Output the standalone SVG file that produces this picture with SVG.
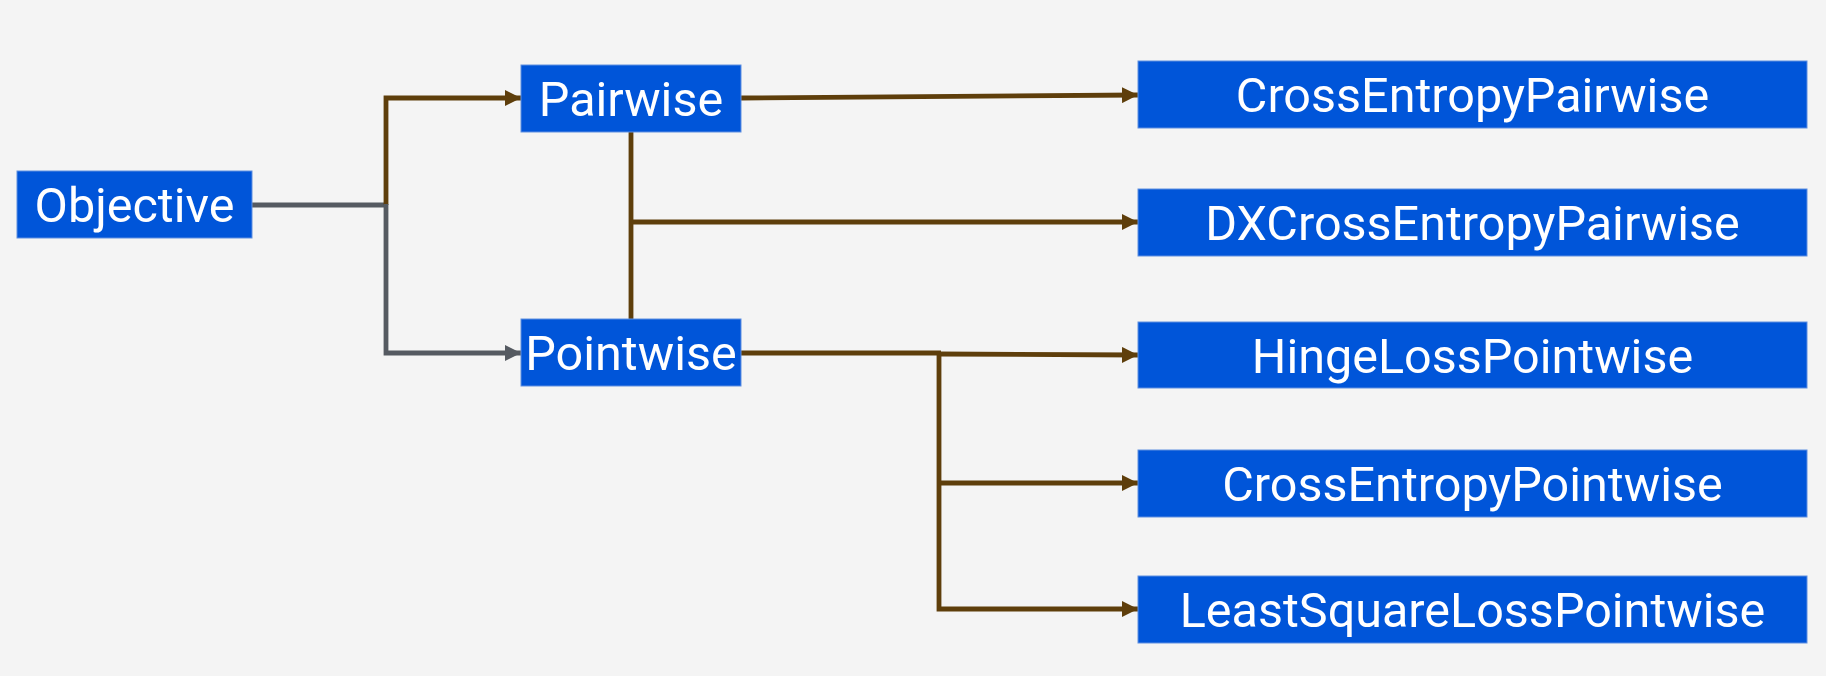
<svg xmlns="http://www.w3.org/2000/svg" width="1826" height="676" viewBox="0 0 1826 676">
<style>
.box{fill:#0055d9;stroke:#5f8fe0;stroke-width:1}
.lbl{font-family:Roboto,"Liberation Sans",Arial,sans-serif;font-size:48.5px;fill:#ffffff;text-anchor:middle}
.brown{fill:none;stroke:#5e3e0b;stroke-width:4.8}
.gray{fill:none;stroke:#555a61;stroke-width:4.8}
</style>
<defs>
<marker id="ab" markerUnits="userSpaceOnUse" markerWidth="16" markerHeight="16" viewBox="0 0 16 16" refX="16" refY="8" orient="auto"><path d="M0 0 L16 8 L0 16 Z" fill="#5e3e0b"/></marker>
<marker id="ag" markerUnits="userSpaceOnUse" markerWidth="16" markerHeight="16" viewBox="0 0 16 16" refX="16" refY="8" orient="auto"><path d="M0 0 L16 8 L0 16 Z" fill="#555a61"/></marker>
</defs>
<rect width="1826" height="676" fill="#f4f4f4"/>
<g id="connectors">
<path class="gray" d="M252 205 L386 205"/>
<path class="brown" d="M386 205 L386 98 L521 98" marker-end="url(#ab)"/>
<path class="gray" d="M386 204 L386 353 L521 353" marker-end="url(#ag)"/>
<path class="brown" d="M741 98 L1138 95" marker-end="url(#ab)"/>
<path class="brown" d="M631 132 L631 319"/>
<path class="brown" d="M631 222 L1138 222" marker-end="url(#ab)"/>
<path class="brown" d="M741 353 L941 353"/>
<path class="brown" d="M939 354 L1138 355" marker-end="url(#ab)"/>
<path class="brown" d="M939 353 L939 609 L1138 609" marker-end="url(#ab)"/>
<path class="brown" d="M939 483 L1138 483" marker-end="url(#ab)"/>
</g>
<g id="objective"><rect class="box" x="17" y="171" width="235" height="67"/><text class="lbl" x="134.5" y="222">Objective</text></g>
<g id="pairwise"><rect class="box" x="521" y="65" width="220" height="67"/><text class="lbl" x="631" y="116">Pairwise</text></g>
<g id="pointwise"><rect class="box" x="521" y="319" width="220" height="67"/><text class="lbl" x="631" y="370">Pointwise</text></g>
<g id="crossentropypairwise"><rect class="box" x="1138" y="61" width="669" height="67"/><text class="lbl" x="1472.5" y="112">CrossEntropyPairwise</text></g>
<g id="dxcrossentropypairwise"><rect class="box" x="1138" y="189" width="669" height="67"/><text class="lbl" x="1472.5" y="240">DXCrossEntropyPairwise</text></g>
<g id="hingelosspointwise"><rect class="box" x="1138" y="322" width="669" height="66"/><text class="lbl" x="1472.5" y="372.5">HingeLossPointwise</text></g>
<g id="crossentropypointwise"><rect class="box" x="1138" y="450" width="669" height="67"/><text class="lbl" x="1472.5" y="501">CrossEntropyPointwise</text></g>
<g id="leastsquarelosspointwise"><rect class="box" x="1138" y="576" width="669" height="67"/><text class="lbl" x="1472.5" y="627">LeastSquareLossPointwise</text></g>
</svg>
